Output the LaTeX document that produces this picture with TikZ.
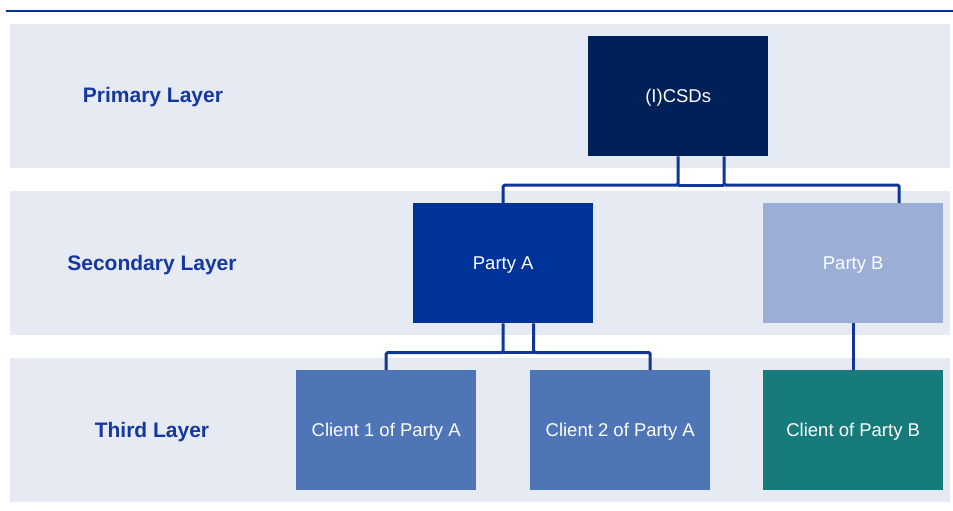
\documentclass[tikz,border=0pt]{standalone}
\usepackage{fontspec}
\setmainfont{Liberation Sans}
\begin{document}
\begin{tikzpicture}[x=1pt,y=-1pt,
  band/.style={fill=bandc,draw=none},
  boxn/.style={minimum width=180pt,minimum height=120pt,inner sep=0pt,text height=13.3pt,text depth=0pt,anchor=north west,text=white,font=\fontsize{18.5}{22}\selectfont},
  layerlbl/.style={text=lblc,inner sep=0pt,text height=15pt,text depth=0pt,font=\bfseries\fontsize{21}{25}\selectfont},
  conn/.style={draw=connc,line width=3pt,rounded corners=1.5pt}]
\definecolor{bandc}{HTML}{E6EAF3}
\definecolor{lblc}{HTML}{1538A0}
\definecolor{connc}{HTML}{0F3599}
\definecolor{csdc}{HTML}{002157}
\definecolor{pac}{HTML}{003399}
\definecolor{pbc}{HTML}{9BAED6}
\definecolor{clac}{HTML}{4E75B6}
\definecolor{clbc}{HTML}{177B7B}
\useasboundingbox (0,0) rectangle (953,511);
\draw[draw=pac,line width=2.5pt] (6,11) -- (953,11);
\fill[band] (10,24) rectangle (950,168);
\fill[band] (10,191) rectangle (950,335);
\fill[band] (10,358) rectangle (950,502);
\node[layerlbl] (l1) at (153,95) {Primary Layer};
\node[layerlbl] (l2) at (152,263) {Secondary Layer};
\node[layerlbl] (l3) at (152,430) {Third Layer};
\node[boxn,fill=csdc] (csd) at (588,36) {(I)CSDs};
\node[boxn,fill=pac] (pa) at (413,203) {Party A};
\node[boxn,fill=pbc] (pb) at (763,203) {Party B};
\node[boxn,fill=clac] (c1) at (296,370) {Client 1 of Party A};
\node[boxn,fill=clac] (c2) at (530,370) {Client 2 of Party A};
\node[boxn,fill=clbc] (cb) at (763,370) {Client of Party B};
\coordinate (bus1) at (0,185);
\coordinate (bus2) at (0,352.5);
\coordinate (csdl) at (csd.south);
\coordinate (csdr) at ([xshift=46pt]csd.south);
\coordinate (pbt) at ([xshift=46pt]pb.north);
\coordinate (pal) at (pa.south);
\coordinate (par) at ([xshift=30.5pt]pa.south);
\coordinate (c2t) at ([xshift=30pt]c2.north);
\draw[conn] (csdl) -- (csdl |- bus1) -| (pa.north);
\draw[conn] (csdr) -- (csdr |- bus1) -| (pbt);
\draw[conn] (csdl |- bus1) -- (csdr |- bus1);
\draw[conn] (pal) -- (pal |- bus2) -| (c1.north);
\draw[conn] (par) -- (par |- bus2) -| (c2t);
\draw[conn] (pal |- bus2) -- (par |- bus2);
\draw[conn] (pb.south) -- (cb.north);
\end{tikzpicture}
\end{document}
